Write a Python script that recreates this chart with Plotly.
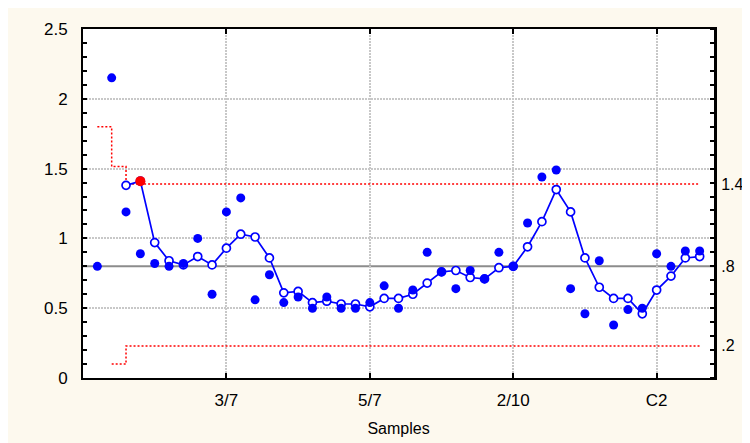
import plotly.graph_objects as go

# ---- data ----
samples = list(range(1, 44))
raw_values = [0.80, 2.15, 1.19, 0.89, 0.82, 0.80, 0.82, 1.00, 0.60, 1.19,
              1.29, 0.56, 0.74, 0.54, 0.58, 0.50, 0.58, 0.50, 0.50, 0.54,
              0.66, 0.50, 0.63, 0.90, 0.76, 0.64, 0.77, 0.71, 0.90, 0.80,
              1.11, 1.44, 1.49, 0.64, 0.46, 0.84, 0.38, 0.49, 0.50, 0.89,
              0.80, 0.91, 0.91]
ma_samples = list(range(3, 44))
ma_values = [1.38, 1.41, 0.97, 0.84, 0.81, 0.87, 0.81, 0.93, 1.03, 1.01,
             0.86, 0.61, 0.62, 0.54, 0.55, 0.53, 0.53, 0.51, 0.57, 0.57,
             0.60, 0.68, 0.76, 0.77, 0.72, 0.71, 0.79, 0.80, 0.94, 1.12,
             1.35, 1.19, 0.86, 0.65, 0.57, 0.57, 0.46, 0.63, 0.73, 0.86,
             0.87]
ucl_x = [1, 2, 3, 43]
ucl_y = [1.80, 1.515, 1.39, 1.39]
lcl_x = [2, 3, 43]
lcl_y = [0.10, 0.23, 0.23]
center = 0.80
limit_vals = [1.39, 0.80, 0.23]
limit_text = ["1.4", ".8", ".2"]
tick_pos = [10, 20, 30, 40]
tick_text = ["3/7", "5/7", "2/10", "C2"]

BLUE = "#0000ff"
FONT = "Arial, Liberation Sans, sans-serif"

out_x = [x for x, v in zip(ma_samples, ma_values) if v > ucl_y[-1]]
out_y = [v for v in ma_values if v > ucl_y[-1]]

fig = go.Figure()
fig.add_trace(go.Scatter(x=ucl_x, y=ucl_y, mode="lines", line_shape="hv",
                         line=dict(color="#ff0000", width=1.5, dash="2px,2px"),
                         hoverinfo="skip"))
fig.add_trace(go.Scatter(x=lcl_x, y=lcl_y, mode="lines", line_shape="hv",
                         line=dict(color="#ff0000", width=1.5, dash="2px,2px"),
                         hoverinfo="skip"))
fig.add_trace(go.Scatter(x=ma_samples, y=ma_values, mode="lines+markers",
                         line=dict(color=BLUE, width=1.7),
                         marker=dict(symbol="circle", size=8, color="white",
                                     line=dict(color=BLUE, width=1.7))))
fig.add_trace(go.Scatter(x=out_x, y=out_y, mode="markers",
                         marker=dict(size=10, color="#ff0000")))
fig.add_trace(go.Scatter(x=samples, y=raw_values, mode="markers",
                         marker=dict(size=9, color=BLUE)))
fig.add_trace(go.Scatter(x=[0], y=[0], yaxis="y2", mode="markers",
                         marker=dict(opacity=0), hoverinfo="skip"))

# centre line
fig.add_shape(type="line", xref="paper", x0=0, x1=1, yref="y", y0=center, y1=center,
              line=dict(color="#8c8c8c", width=2), layer="below")

grid = dict(showgrid=True, gridcolor="#c8c8c8", gridwidth=2, griddash="2px,1px")
fig.update_layout(
    width=742, height=435,
    margin=dict(l=75, r=36, t=21, b=65, autoexpand=False),
    paper_bgcolor="#fdf9ee", plot_bgcolor="white",
    showlegend=False,
    font=dict(family=FONT, size=17, color="black"),
    xaxis=dict(range=[0, 44], tickmode="array", tickvals=tick_pos, ticktext=tick_text,
               ticks="inside", ticklen=5, tickwidth=2, tickcolor="black",
               showline=True, linecolor="black", linewidth=2, mirror="ticks",
               zeroline=False, ticklabelstandoff=6, automargin=False,
               title=dict(text="Samples", standoff=13, font=dict(size=16)), **grid),
    yaxis=dict(range=[0, 2.5], dtick=0.5, tick0=0,
               ticks="inside", ticklen=4, tickwidth=1.5, tickcolor="black",
               minor=dict(dtick=0.1, tick0=0, ticks="inside", ticklen=4,
                          tickwidth=1.5, tickcolor="black", showgrid=False),
               showline=True, linecolor="black", linewidth=2, mirror=False,
               zeroline=False, ticklabelstandoff=10, automargin=False, **grid),
    yaxis2=dict(range=[0, 2.5], overlaying="y", side="right",
                tickmode="array", tickvals=limit_vals, ticktext=limit_text, ticks="",
                tickfont=dict(size=16),
                minor=dict(dtick=0.1, tick0=0, ticks="inside", ticklen=4,
                           tickwidth=1.5, tickcolor="black", showgrid=False),
                showline=True, linecolor="black", linewidth=3, showgrid=False,
                zeroline=False, ticklabelstandoff=1, automargin=False),
)
fig.write_html("out.html")
